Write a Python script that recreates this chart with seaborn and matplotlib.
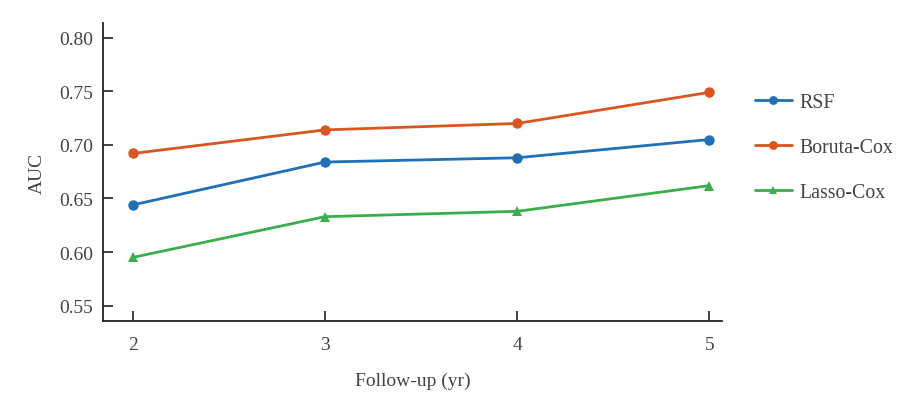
import seaborn as sns
import matplotlib.pyplot as plt
import pandas as pd

# Values
years = [2, 3, 4, 5]
rsf = [0.644, 0.684, 0.688, 0.705]
boruta_cox = [0.692, 0.714, 0.720, 0.749]
lasso_cox = [0.595, 0.633, 0.638, 0.662]

models = ['RSF', 'Boruta-Cox', 'Lasso-Cox']
colors = {'RSF': '#1f70b5', 'Boruta-Cox': '#d9561f', 'Lasso-Cox': '#3aae4a'}
markers = {'RSF': 'o', 'Boruta-Cox': 'o', 'Lasso-Cox': '^'}

df = pd.DataFrame({
    'year': years * 3,
    'auc': rsf + boruta_cox + lasso_cox,
    'model': [m for m in models for _ in years],
})

sns.set_style('ticks')
plt.rcParams['font.family'] = ['Liberation Serif', 'DejaVu Serif']

fig = plt.figure(figsize=(9.12, 4.06), dpi=100)
ax = fig.add_axes([0.113, 0.207, 0.679, 0.734])

sns.lineplot(data=df, x='year', y='auc', hue='model', style='model',
             hue_order=models, style_order=models, palette=colors,
             markers=markers, dashes=False, markersize=7.5, linewidth=2,
             markeredgewidth=0, ax=ax)

ax.set_xlim(1.845, 5.068)
ax.set_ylim(0.5357, 0.8138)
ax.set_xticks(years)
ax.set_yticks([0.55, 0.60, 0.65, 0.70, 0.75, 0.80])
ax.set_yticklabels([f'{v:.2f}' for v in ax.get_yticks()])
ax.tick_params(direction='in', length=7, width=1.2, labelsize=14, colors='#222222',
               labelcolor='#444444', pad=7)
ax.tick_params(axis='x', pad=11)
for s in ['left', 'bottom']:
    ax.spines[s].set_linewidth(1.3)
    ax.spines[s].set_color('#222222')
sns.despine(ax=ax)

ax.set_xlabel('Follow-up (yr)', fontsize=14, color='#444444', labelpad=13)
ax.set_ylabel('AUC', fontsize=14, color='#444444', labelpad=10)

ax.legend(title=None, frameon=False, loc='center left', bbox_to_anchor=(1.024, 0.583),
          fontsize=14.3, labelspacing=1.3, handlelength=1.85, handletextpad=0.4,
          labelcolor='#444444', markerscale=0.85)

fig.savefig('out.png', dpi=100)
